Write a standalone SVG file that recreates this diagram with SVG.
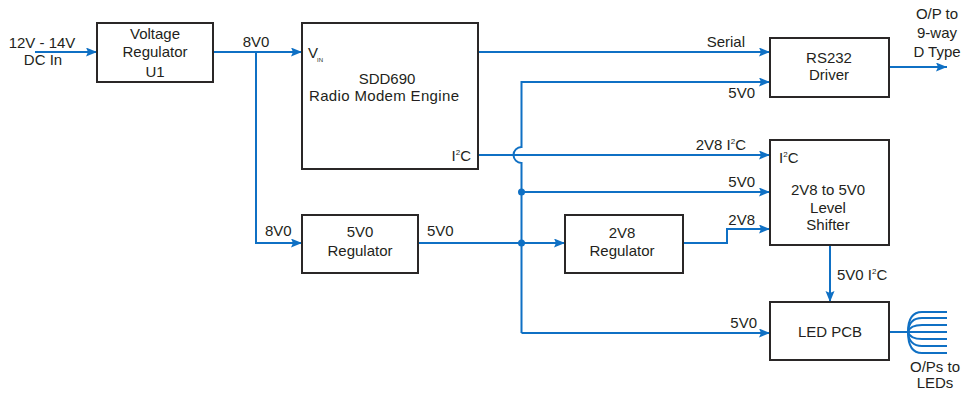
<svg xmlns="http://www.w3.org/2000/svg" width="962" height="394" viewBox="0 0 962 394">
<style>
.box{fill:#fff;stroke:#2a2727;stroke-width:2}
.ln{fill:none;stroke:#0f70c4;stroke-width:2}
.arr{fill:none;stroke:#0f70c4;stroke-width:2;marker-end:url(#ah)}
.dot{fill:#0f70c4}
text{font-family:"Liberation Sans",Arial,sans-serif;font-size:15px;fill:#231f20}
.m{text-anchor:middle}
.e{text-anchor:end}
.sup{font-size:8px}
</style>
<defs>
<marker id="ah" markerUnits="userSpaceOnUse" markerWidth="12" markerHeight="10" refX="11" refY="4.5" orient="auto">
<path d="M0,0 L11,4.5 L0,9 L2,4.5 z" fill="#0f70c4"/>
</marker>
</defs>
<rect width="962" height="394" fill="#fff"/>
<g id="connectors">
<path class="arr" d="M35,52 H97"/>
<path class="arr" d="M213,52 H302"/>
<path class="arr" d="M256,52 V243 H302"/>
<path class="arr" d="M478,52 H770"/>
<path class="arr" d="M521.5,333 V163 A8,8 0 0 1 521.5,147 V82 H770"/>
<path class="arr" d="M521.5,333 H770"/>
<path class="arr" d="M521.5,192 H770"/>
<path class="arr" d="M478,155 H770"/>
<path class="arr" d="M418,243 H565"/>
<path class="arr" d="M683,243 H727 V229 H770"/>
<path class="arr" d="M830,245 V302"/>
<path class="arr" d="M889,67 H947"/>
<path class="ln" d="M889,332 H908"/>
<path class="ln" d="M908,332 Q908,312 922,312 H947"/>
<path class="ln" d="M908,332 Q909,318 922,318 H947"/>
<path class="ln" d="M908,332 Q910,325 922,325 H947"/>
<path class="ln" d="M908,332 H947"/>
<path class="ln" d="M908,332 Q910,339 922,339 H947"/>
<path class="ln" d="M908,332 Q909,346 922,346 H947"/>
<path class="ln" d="M908,332 Q908,353 922,353 H947"/>
<circle class="dot" cx="521.5" cy="192" r="3.5"/>
<circle class="dot" cx="521.5" cy="243" r="3.5"/>
</g>
<g id="labels">
<text class="m" x="42" y="48">12V - 14V</text>
<text class="m" x="43" y="65">DC In</text>
<text class="m" x="256" y="47">8V0</text>
<text class="e" x="745" y="47">Serial</text>
<text class="e" x="755" y="98">5V0</text>
<text class="e" x="746" y="150">2V8 I<tspan class="sup" dy="-6">2</tspan><tspan dy="6">C</tspan></text>
<text class="e" x="755" y="187">5V0</text>
<text class="e" x="755" y="225">2V8</text>
<text class="e" x="757" y="328">5V0</text>
<text x="265" y="236">8V0</text>
<text x="427" y="236">5V0</text>
<text x="837" y="280">5V0 I<tspan class="sup" dy="-6">2</tspan><tspan dy="6">C</tspan></text>
<text class="m" x="937" y="19">O/P to</text>
<text class="m" x="937" y="38">9-way</text>
<text class="m" x="937" y="57">D Type</text>
<text class="m" x="935" y="372">O/Ps to</text>
<text class="m" x="935" y="388">LEDs</text>
</g>
<g id="voltage-regulator">
<rect class="box" x="97" y="23" width="116" height="59"/>
<text class="m" x="155" y="39">Voltage</text>
<text class="m" x="155" y="57">Regulator</text>
<text class="m" x="155" y="77">U1</text>
</g>
<g id="sdd690">
<rect class="box" x="302" y="23" width="176" height="146"/>
<text x="308" y="58">V</text>
<text x="317" y="62" style="font-size:6px">IN</text>
<text class="m" x="387" y="84">SDD690</text>
<text class="m" x="384" y="101" textLength="150">Radio Modem Engine</text>
<text class="e" x="471" y="161">I<tspan class="sup" dy="-6">2</tspan><tspan dy="6">C</tspan></text>
</g>
<g id="rs232">
<rect class="box" x="770" y="38" width="119" height="59"/>
<text class="m" x="829" y="63">RS232</text>
<text class="m" x="829" y="80">Driver</text>
</g>
<g id="level-shifter">
<rect class="box" x="770" y="140" width="119" height="105"/>
<text x="779" y="163">I<tspan class="sup" dy="-6">2</tspan><tspan dy="6">C</tspan></text>
<text class="m" x="828" y="195">2V8 to 5V0</text>
<text class="m" x="828" y="213">Level</text>
<text class="m" x="828" y="230">Shifter</text>
</g>
<g id="reg-5v0">
<rect class="box" x="302" y="215" width="116" height="58"/>
<text class="m" x="360" y="237">5V0</text>
<text class="m" x="360" y="256">Regulator</text>
</g>
<g id="reg-2v8">
<rect class="box" x="565" y="215" width="118" height="58"/>
<text class="m" x="622" y="238">2V8</text>
<text class="m" x="622" y="256">Regulator</text>
</g>
<g id="led-pcb">
<rect class="box" x="770" y="302" width="119" height="58"/>
<text class="m" x="830" y="337">LED PCB</text>
</g>
</svg>
